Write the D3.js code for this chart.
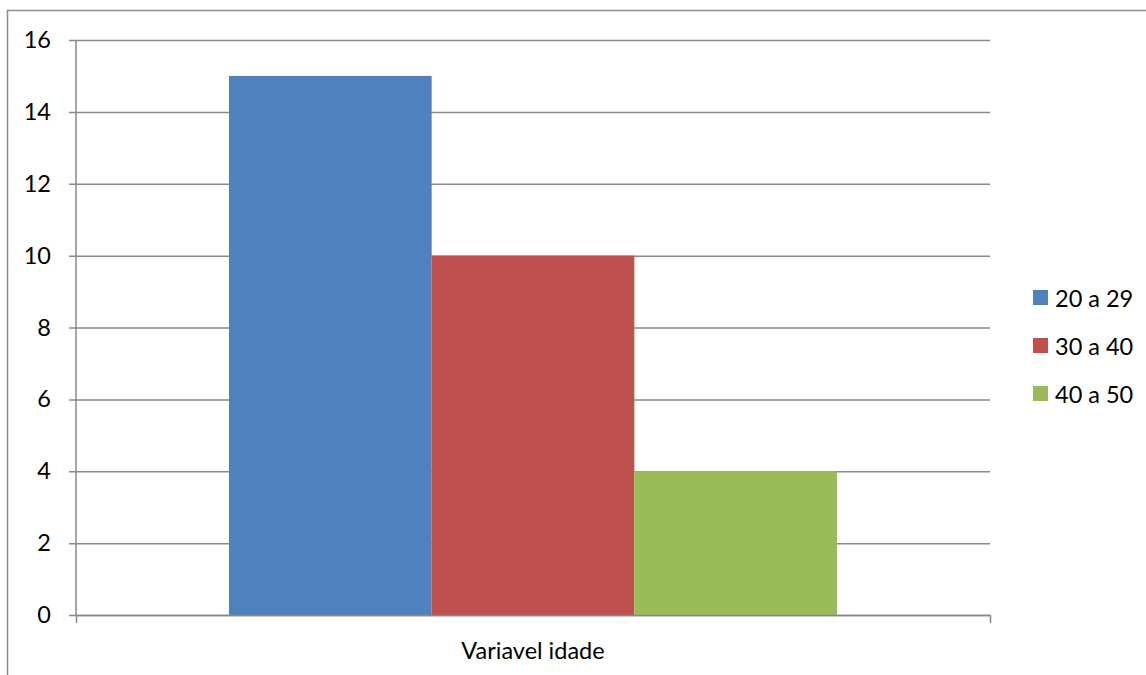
<!DOCTYPE html>
<html>
<head>
<meta charset="utf-8">
<script src="https://cdn.jsdelivr.net/npm/d3@7"></script>
<style>
  html, body { margin: 0; padding: 0; background: #fff; }
  svg { display: block; }
  text { font-family: Lato, "Open Sans", sans-serif; fill: #000; }
</style>
</head>
<body>
<svg id="chart" width="1146" height="675"></svg>
<script>
// Age groups and their counts
const category = ["Variavel idade"];
const series = ["20 a 29", "30 a 40", "40 a 50"];
const values = [15, 10, 4];
const colors = ["#4F81BD", "#C0504D", "#9BBB59"];
const yTicks = [0, 2, 4, 6, 8, 10, 12, 14, 16];

const svg = d3.select("#chart");
const W = 1146, H = 675;
const plot = { left: 76, right: 990, top: 40, bottom: 615 };
const FONT = 23.5;

// outer chart frame (extends past the right and bottom edges)
svg.append("rect")
  .attr("x", 7.5).attr("y", 10.5)
  .attr("width", W + 20).attr("height", H + 20)
  .attr("fill", "none").attr("stroke", "#8c8c8c").attr("stroke-width", 1.5);

const y = d3.scaleLinear().domain([0, 16]).range([plot.bottom, plot.top]);
const x0 = d3.scaleBand().domain(category).range([plot.left, plot.right]).paddingInner(0).paddingOuter(0.2516);
const x1 = d3.scaleBand().domain(series).range([0, x0.bandwidth()]).padding(0);

// horizontal gridlines + y axis
const yAxis = d3.axisLeft(y).tickValues(yTicks).tickSize(-(plot.right - plot.left)).tickPadding(25);
const gy = svg.append("g").attr("transform", `translate(${plot.left},0)`).call(yAxis);
gy.select(".domain").remove();
gy.selectAll(".tick line").attr("stroke", "#898989").attr("stroke-width", 1.5).attr("x1", -7);
gy.selectAll(".tick text").attr("font-size", FONT).style("font-family", "Lato, 'Open Sans', sans-serif");

// bars
const gBars = svg.append("g").attr("transform", `translate(${x0(category[0])},0)`);
gBars.selectAll("rect").data(series.map((s, i) => ({ s, v: values[i], c: colors[i] })))
  .join("rect")
  .attr("x", d => x1(d.s))
  .attr("width", x1.bandwidth())
  .attr("y", d => y(d.v))
  .attr("height", d => y(0) - y(d.v))
  .attr("fill", d => d.c);

// y axis line
svg.append("line")
  .attr("x1", plot.left).attr("x2", plot.left)
  .attr("y1", plot.top).attr("y2", plot.bottom)
  .attr("stroke", "#898989").attr("stroke-width", 1.5);

// x axis with boundary ticks
const xb = d3.scaleLinear().domain([0, 1]).range([plot.left, plot.right]);
const gx = svg.append("g").attr("transform", `translate(0,${plot.bottom})`)
  .call(d3.axisBottom(xb).tickValues([0, 1]).tickSize(8).tickSizeOuter(0).tickFormat(""));
gx.selectAll(".domain").attr("stroke", "#898989").attr("stroke-width", 1.5);
gx.selectAll(".tick line").attr("stroke", "#898989").attr("stroke-width", 1.5);

svg.append("text")
  .attr("x", x0(category[0]) + x0.bandwidth() / 2)
  .attr("y", 659)
  .attr("text-anchor", "middle")
  .attr("font-size", FONT)
  .text(category[0]);

// legend
const lg = svg.append("g").attr("transform", "translate(1033,290)");
const items = lg.selectAll("g").data(series).join("g")
  .attr("transform", (d, i) => `translate(0,${i * 48})`);
items.append("rect").attr("width", 15).attr("height", 15).attr("fill", (d, i) => colors[i]);
items.append("text").attr("x", 22).attr("y", 17).attr("font-size", FONT).text(d => d);
</script>
</body>
</html>
